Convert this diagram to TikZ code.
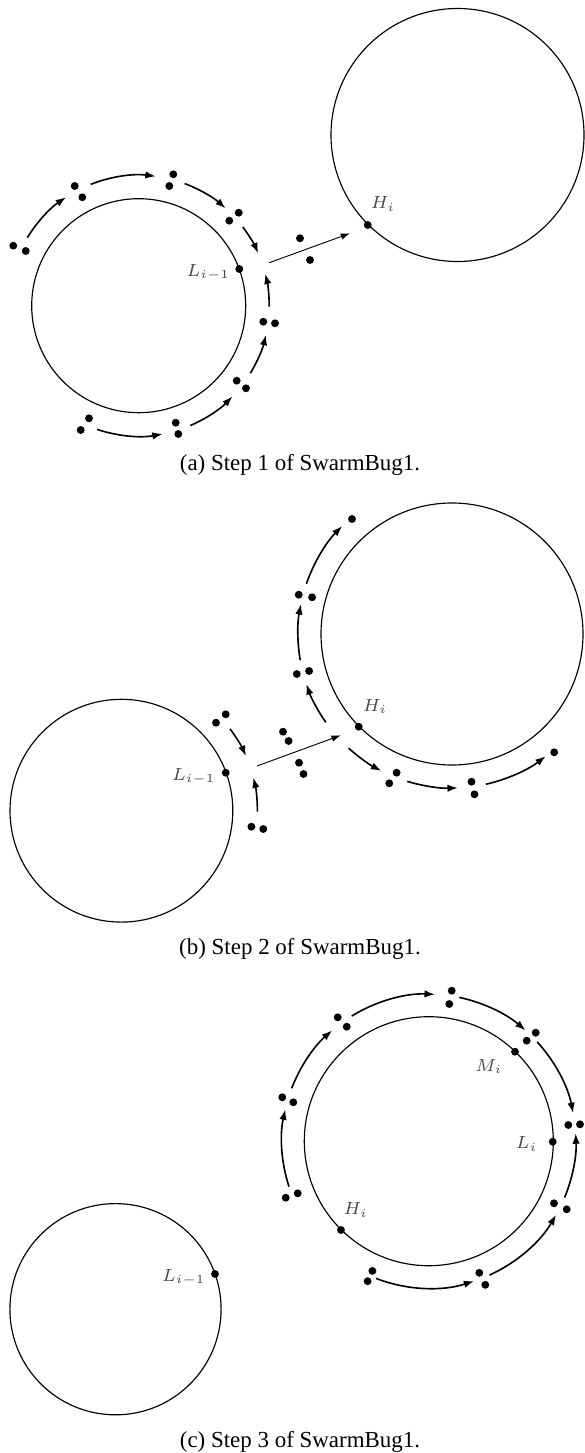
\documentclass[tikz,border=0pt]{standalone}
\usepackage{fix-cm}
\usepackage{fontspec}
\setmainfont{Liberation Serif}
\usetikzlibrary{arrows.meta,calc}
\tikzset{
  obst/.style={line width=0.5pt},
  arr/.style={line width=0.7pt,-{Latex[length=4.5pt,width=3.2pt]}},
  move/.style={line width=0.4pt,-{Latex[length=4pt,width=2.8pt]}},
  lbl/.style={inner sep=0pt,text=black!72,font=\fontsize{7.6}{9}\selectfont},
  captxt/.style={inner sep=0pt,font=\fontsize{9.9}{11}\selectfont},
}
\newcommand\bugs[1]{\foreach \p in {#1}{\fill \p circle[radius=1.7pt];}}
\newcommand\garc[4]{\draw[arr] ($(#1)+(#2:#4)$) arc[start angle=#2,end angle=#3,radius=#4];}
\begin{document}
\begin{tikzpicture}[x=0.4315pt,y=0.4315pt]
\useasboundingbox (0,0) rectangle (584,-1453);
% ---------------- (a)
\coordinate (A1) at (138.7,-305.7);
\coordinate (A2) at (457.5,-135);
\draw[obst] (A1) circle[radius=107];
\draw[obst] (A2) circle[radius=126.5];
\garc{A1}{148.6}{123.8}{130.5}
\garc{A1}{111.6}{82.5}{130.5}
\garc{A1}{69.4}{48.2}{130.5}
\garc{A1}{37.1}{23.7}{130.5}
\garc{A1}{-0.4}{14.2}{130.5}
\garc{A1}{-31.2}{-12.9}{130.5}
\garc{A1}{-66.7}{-44}{130.5}
\garc{A1}{-108.6}{-79.4}{130.5}
\coordinate (aLp) at (239.3,-269);
\coordinate (aH) at (367.7,-225);
\coordinate (aS) at (269.3,-262.7);
\coordinate (aE) at (350,-233.3);
\draw[move] (aS) -- (aE);
\bugs{(aLp),(aH),(13.3,-245.7),(25.7,-251),(74.7,-186),(82.3,-197.3),(173.3,-174.3),(169.3,-186),(229.3,-220.7),(238.7,-212.7),(263.3,-321.7),(275,-323.3),(236.7,-380.7),(246,-388.3),(175.7,-422.7),(178.3,-434),(89,-418.3),(80.7,-430),(300,-238.3),(310,-260)}
\node[lbl] (aLl) at (208.3,-272.5) {$L_{i-1}$};
\node[lbl] (aHl) at (383,-204) {$H_i$};
\node[captxt] (capa) at (300,-465) {(a)\ Step 1 of SwarmBug1.};
% ---------------- (b)
\coordinate (B1) at (121.4,-810.7);
\coordinate (B2) at (452,-634);
\draw[obst] (B1) circle[radius=111.4];
\draw[obst] (B2) circle[radius=131];
\garc{B1}{37}{23.7}{136}
\garc{B1}{-0.4}{14.1}{136}
\garc{B2}{215}{199}{154}
\garc{B2}{189.8}{168.8}{154}
\garc{B2}{161}{135.5}{154}
\garc{B2}{227.8}{242.7}{154}
\garc{B2}{253.1}{272.2}{154}
\garc{B2}{282.7}{307.5}{154}
\coordinate (bLp) at (225.7,-772.7);
\coordinate (bH) at (358.7,-726.7);
\coordinate (bS) at (257,-766);
\coordinate (bE) at (340.8,-735.3);
\draw[move] (bS) -- (bE);
\bugs{(bLp),(bH),(216,-722.7),(225.7,-714.3),(251.4,-826.7),(263.3,-829),(283,-731.7),(288.6,-741),(299,-762.7),(303.5,-774),(296.8,-674),(309.1,-671),(298.7,-594.7),(312.1,-597.3),(352,-519),(396.6,-772.7),(389.2,-783.3),(471.5,-781.7),(474.5,-794.3),(554.2,-752.3)}
\node[lbl] (bLl) at (193.7,-776.7) {$L_{i-1}$};
\node[lbl] (bHl) at (375,-706.7) {$H_i$};
\node[captxt] (capb) at (300,-948.5) {(b)\ Step 2 of SwarmBug1.};
% ---------------- (c)
\coordinate (C1) at (115.5,-1309.2);
\coordinate (C2) at (428.8,-1141.2);
\draw[obst] (C1) circle[radius=105.6];
\draw[obst] (C2) circle[radius=124.5];
\garc{C2}{121.6}{87.6}{147}
\garc{C2}{78.1}{48.9}{147}
\garc{C2}{42.5}{11}{147}
\garc{C2}{-22.5}{3.1}{147}
\garc{C2}{158.9}{131.1}{147}
\garc{C2}{198}{167.5}{147}
\garc{C2}{249}{288}{147}
\garc{C2}{294.4}{330}{147}
\coordinate (cM) at (515,-1051.7);
\coordinate (cL) at (552.7,-1141.7);
\coordinate (cH) at (341,-1230);
\coordinate (cLp) at (215,-1274);
\bugs{(cM),(cL),(cH),(cLp),(451.7,-990.7),(449.3,-1004),(337.7,-1017.3),(346.7,-1026.7),(526.7,-1040.7),(535.7,-1032.7),(282.3,-1097.3),(293.3,-1102.3),(568.3,-1125),(580,-1124.3),(285.7,-1197.7),(297.7,-1193.3),(554,-1203.3),(566.7,-1209.3),(372.4,-1270.9),(367.6,-1281.2),(479.3,-1272.8),(485.3,-1284.8)}
\node[lbl] (cMl) at (488.8,-1066.7) {$M_i$};
\node[lbl] (cLl) at (526.7,-1144) {$L_i$};
\node[lbl] (cHl) at (355.8,-1210) {$H_i$};
\node[lbl] (cLpl) at (183.8,-1277.3) {$L_{i-1}$};
\node[captxt] (capc) at (300,-1442) {(c)\ Step 3 of SwarmBug1.};
\end{tikzpicture}
\end{document}
